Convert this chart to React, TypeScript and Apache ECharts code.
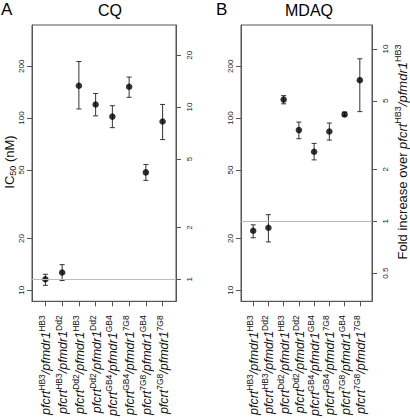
import React, { useEffect, useRef } from "react";
import * as echarts from "echarts";

// ---- data ----
const crtAlleles = ["HB3", "HB3", "Dd2", "Dd2", "GB4", "GB4", "7G8", "7G8"];
const mdrAlleles = ["HB3", "Dd2", "HB3", "Dd2", "GB4", "7G8", "GB4", "7G8"];

const cqMean = [11.6, 12.7, 154, 120, 102, 152, 48.4, 95.6];
const cqLow = [10.7, 11.4, 113, 103, 88, 132, 43.5, 75];
const cqHigh = [12.4, 14.1, 213, 139, 118, 173, 53.8, 120];
const cqBase = 11.58;

const mdaqMean = [22.2, 23.1, 128, 85.2, 63.8, 83.6, 105, 166];
const mdaqLow = [20.2, 19.1, 121, 75.9, 57.2, 74.5, 102.7, 109];
const mdaqHigh = [24.0, 27.5, 135, 94.8, 71.3, 93.6, 108.3, 221];
const mdaqBase = 25.2;

const icTicks = [10, 20, 50, 100, 200];
const foldTicksA = [1, 2, 5, 10, 20];
const foldTicksB = [0.5, 1, 2, 5, 10];
const positions = [1, 2, 3, 4, 5, 6, 7, 8];

const IC_MIN = 8.64;
const IC_MAX = 347;

const FONT = "'Liberation Sans', Arial, Helvetica, sans-serif";
const AXIS_COLOR = "#555";

const catLabel = (i: number) =>
  `{i|pfcrt}{s|${crtAlleles[i]}}{i|/pfmdr1}{s|${mdrAlleles[i]}}`;

const richCat = {
  i: { fontSize: 12.5, fontStyle: "italic", fontFamily: FONT, color: "#111", verticalAlign: "bottom", lineHeight: 15 },
  s: { fontSize: 8.5, fontFamily: FONT, color: "#111", verticalAlign: "top", lineHeight: 15 },
};

function xAxisFor(gridIndex: number) {
  return {
    type: "value",
    gridIndex,
    min: 0.2,
    max: 8.8,
    position: "bottom",
    axisLine: { show: true, lineStyle: { color: AXIS_COLOR, width: 1 } },
    axisTick: { show: true, inside: false, length: 5, customValues: positions, lineStyle: { color: AXIS_COLOR } },
    axisLabel: {
      show: true,
      customValues: positions,
      rotate: 90,
      margin: 14,
      formatter: (v: number) => catLabel(Math.round(v) - 1),
      rich: richCat,
    },
    splitLine: { show: false },
  };
}

function yAxisLeft(gridIndex: number) {
  return {
    type: "log",
    logBase: 10,
    gridIndex,
    min: IC_MIN,
    max: IC_MAX,
    position: "left",
    axisLine: { show: true, lineStyle: { color: AXIS_COLOR, width: 1 } },
    axisTick: { show: true, inside: false, length: 5, customValues: icTicks, lineStyle: { color: AXIS_COLOR } },
    axisLabel: {
      customValues: icTicks,
      rotate: 90,
      margin: 7,
      fontSize: 8,
      fontFamily: FONT,
      color: "#222",
      formatter: (v: number) => String(+(+v).toPrecision(3)),
    },
    splitLine: { show: false },
    minorTick: { show: false },
  };
}

function yAxisRight(gridIndex: number, base: number, ticks: number[]) {
  return {
    type: "log",
    logBase: 10,
    gridIndex,
    min: IC_MIN / base,
    max: IC_MAX / base,
    position: "right",
    axisLine: { show: true, lineStyle: { color: AXIS_COLOR, width: 1 } },
    axisTick: { show: true, inside: false, length: 5, customValues: ticks, lineStyle: { color: AXIS_COLOR } },
    axisLabel: {
      customValues: ticks,
      rotate: 90,
      margin: 9,
      fontSize: 8,
      fontFamily: FONT,
      color: "#222",
      formatter: (v: number) => String(+(+v).toPrecision(3)),
    },
    splitLine: { show: false },
  };
}

function errorSeries(xi: number, yi: number, low: number[], high: number[]) {
  return {
    type: "custom",
    xAxisIndex: xi,
    yAxisIndex: yi,
    silent: true,
    encode: { x: 0, y: [1, 2] },
    data: positions.map((p, i) => [p, low[i], high[i]]),
    renderItem: (_params: any, api: any) => {
      const x = api.value(0);
      const a = api.coord([x, api.value(1)]);
      const b = api.coord([x, api.value(2)]);
      const w = 2.5;
      const st = { stroke: "#333", lineWidth: 1 };
      return {
        type: "group",
        children: [
          { type: "line", shape: { x1: a[0], y1: a[1], x2: b[0], y2: b[1] }, style: st },
          { type: "line", shape: { x1: a[0] - w, y1: a[1], x2: a[0] + w, y2: a[1] }, style: st },
          { type: "line", shape: { x1: b[0] - w, y1: b[1], x2: b[0] + w, y2: b[1] }, style: st },
        ],
      };
    },
    z: 2,
  };
}

function pointSeries(xi: number, yi: number, mean: number[], base: number) {
  return {
    type: "scatter",
    xAxisIndex: xi,
    yAxisIndex: yi,
    symbol: "circle",
    symbolSize: 6.5,
    itemStyle: { color: "#000" },
    data: positions.map((p, i) => [p, mean[i]]),
    markLine: {
      silent: true,
      symbol: "none",
      label: { show: false },
      lineStyle: { color: "#bbb", width: 1, type: "solid" },
      data: [{ yAxis: base }],
    },
    z: 3,
  };
}

export default function App() {
  const ref = useRef<HTMLDivElement>(null);
  useEffect(() => {
    if (!ref.current) return;
    const chart = echarts.init(ref.current, undefined, { renderer: "svg" });
    const titleFont = { fontSize: 16, fontFamily: FONT, fill: "#000" };
    chart.setOption({
      animation: false,
      backgroundColor: "#fff",
      grid: [
        { left: 32, top: 25, width: 144, height: 277, show: true, borderColor: AXIS_COLOR, borderWidth: 1 },
        { left: 241, top: 25, width: 131, height: 277, show: true, borderColor: AXIS_COLOR, borderWidth: 1 },
      ],
      xAxis: [xAxisFor(0), xAxisFor(1)],
      yAxis: [
        yAxisLeft(0),
        yAxisRight(0, cqBase, foldTicksA),
        yAxisLeft(1),
        yAxisRight(1, mdaqBase, foldTicksB),
      ],
      series: [
        errorSeries(0, 0, cqLow, cqHigh),
        pointSeries(0, 0, cqMean, cqBase),
        errorSeries(1, 2, mdaqLow, mdaqHigh),
        pointSeries(1, 2, mdaqMean, mdaqBase),
      ],
      graphic: [
        { type: "text", left: 1, top: 1, style: { text: "A", ...titleFont, fontSize: 17 } },
        { type: "text", x: 110, y: 10, style: { text: "CQ", ...titleFont, align: "center", verticalAlign: "middle" } },
        { type: "text", left: 216, top: 1, style: { text: "B", ...titleFont, fontSize: 17 } },
        { type: "text", x: 309, y: 10, style: { text: "MDAQ", ...titleFont, align: "center", verticalAlign: "middle" } },
        {
          type: "text",
          x: 9,
          y: 162,
          rotation: Math.PI / 2,
          style: {
            text: "{n|IC}{b|50}{n| (nM)}",
            align: "center",
            verticalAlign: "middle",
            rich: {
              n: { fontSize: 13, fontFamily: FONT, fill: "#111", verticalAlign: "middle", lineHeight: 16 },
              b: { fontSize: 9, fontFamily: FONT, fill: "#111", verticalAlign: "bottom", lineHeight: 16 },
            },
          },
        },
        {
          type: "text",
          x: 401,
          y: 152,
          rotation: Math.PI / 2,
          style: {
            text: "{n|Fold increase over }{i|pfcrt}{s|HB3}{i|/pfmdr1}{s|HB3}",
            align: "center",
            verticalAlign: "middle",
            rich: {
              n: { fontSize: 13, fontFamily: FONT, fill: "#111", verticalAlign: "bottom", lineHeight: 16 },
              i: { fontSize: 13, fontStyle: "italic", fontFamily: FONT, fill: "#111", verticalAlign: "bottom", lineHeight: 16 },
              s: { fontSize: 9, fontFamily: FONT, fill: "#111", verticalAlign: "top", lineHeight: 16 },
            },
          },
        },
      ],
    });
    return () => chart.dispose();
  }, []);
  return (
    <div
      ref={ref}
      style={{ position: "absolute", left: 0, top: 0, width: 410, height: 419 }}
    />
  );
}
